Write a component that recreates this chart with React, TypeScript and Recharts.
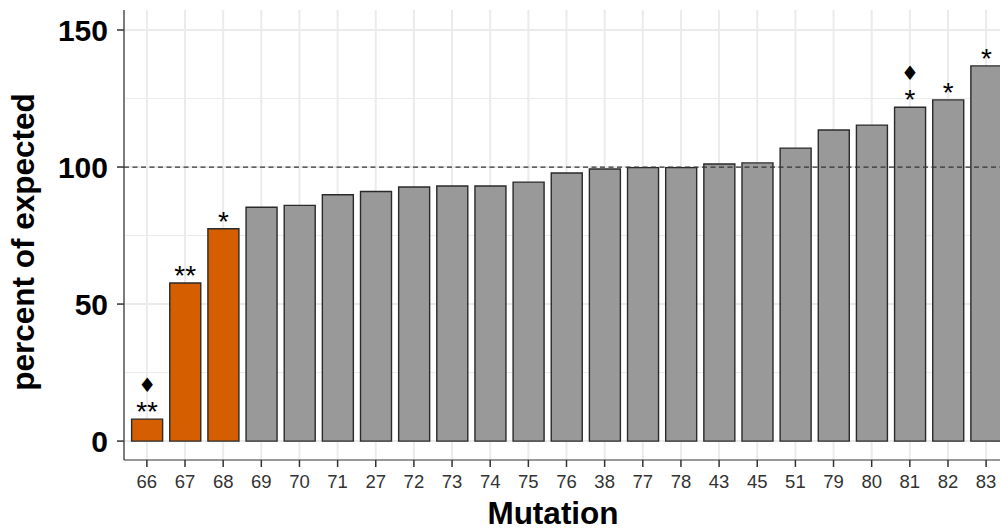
import {
  BarChart, Bar, XAxis, YAxis, CartesianGrid, ReferenceLine,
  Cell, LabelList, Label,
} from "recharts";

const mutations = [
  "66", "67", "68", "69", "70", "71", "27", "72", "73", "74", "75", "76",
  "38", "77", "78", "43", "45", "51", "79", "80", "81", "82", "83",
];
const percentExpected = [
  8, 57.7, 77.5, 85.3, 86.0, 89.9, 91.1, 92.7, 93.1, 93.1, 94.5, 97.8,
  99.3, 99.8, 99.8, 101.1, 101.5, 106.9, 113.5, 115.3, 121.8, 124.5, 136.9,
];
const significance = [
  "**", "**", "*", "", "", "", "", "", "", "", "", "",
  "", "", "", "", "", "", "", "", "*", "*", "*",
];
const diamonds = [
  "♦", "", "", "", "", "", "", "", "", "", "", "",
  "", "", "", "", "", "", "", "", "♦", "", "",
];
const highlighted = ["66", "67", "68"];
const yTicks = [0, 50, 100, 150];
const yMinor = [25, 75, 125];

const data = mutations.map((m, i) => ({
  mutation: m,
  value: percentExpected[i],
  sig: significance[i],
  dia: diamonds[i],
}));

const FONT = '"Liberation Sans", Arial, Helvetica, sans-serif';
const INK = "#333333";

function SigLabel(props: any) {
  const { x, y, width, value } = props;
  if (!value) return null;
  return (
    <text x={x + width / 2} y={y + 2} textAnchor="middle" fontSize={28}
      fontFamily={FONT} fill="#000">{value}</text>
  );
}

function DiamondLabel(props: any) {
  const { x, y, width, value } = props;
  if (!value) return null;
  return (
    <text x={x + width / 2} y={y - 34} textAnchor="middle" dominantBaseline="central"
      fontSize={20} fontFamily='"DejaVu Sans", sans-serif' fill="#000">{value}</text>
  );
}

export default function App() {
  return (
    <div style={{ position: "absolute", left: 0, top: 0, width: 1000, height: 531, overflow: "hidden", background: "#fff" }}>
      <BarChart width={1020} height={531} data={data} barCategoryGap="10%"
        margin={{ top: 10, right: 11, left: 0, bottom: 0 }}
        style={{ fontFamily: FONT }}>
        <CartesianGrid horizontalValues={yMinor} vertical={false} stroke="#EBEBEB" strokeWidth={1} />
        <CartesianGrid horizontalValues={yTicks} stroke="#EBEBEB" strokeWidth={2} />
        <XAxis dataKey="mutation" interval={0} height={71} tickSize={7} tickMargin={8}
          padding={{ left: 3.8, right: 3.8 }}
          axisLine={{ stroke: INK, strokeWidth: 1.2 }} tickLine={{ stroke: INK, strokeWidth: 1.5 }}
          tick={{ fontSize: 18.5, fill: INK, fontFamily: FONT }}>
          <Label content={() => (
            <text x={553} y={524} textAnchor="middle" fontSize={31.5} fontWeight="bold"
              fontFamily={FONT} fill="#000">Mutation</text>
          )} />
        </XAxis>
        <XAxis xAxisId="top" dataKey="mutation" orientation="top" height={0}
          tick={false} tickLine={false} axisLine={{ stroke: INK, strokeWidth: 1.2 }} />
        <YAxis type="number" domain={[-6.9, 157.3]} ticks={yTicks} width={124}
          tickSize={7} tickMargin={9}
          axisLine={{ stroke: INK, strokeWidth: 1.2 }} tickLine={{ stroke: INK, strokeWidth: 1.5 }}
          tick={{ fontSize: 30, fontWeight: "bold", fill: "#000", fontFamily: FONT }}>
          <Label content={() => (
            <text x={34} y={242} textAnchor="middle" fontSize={31.5} fontWeight="bold"
              fontFamily={FONT} fill="#000" transform="rotate(-90 34 242)">percent of expected</text>
          )} />
        </YAxis>
        <ReferenceLine y={100} stroke={INK} strokeWidth={1.3} strokeDasharray="5 3.5" />
        <Bar dataKey="value" stroke="#2a2a2a" strokeWidth={1.4} isAnimationActive={false}>
          {data.map((d) => (
            <Cell key={d.mutation} fill={highlighted.includes(d.mutation) ? "#D55E00" : "#999999"} />
          ))}
          <LabelList dataKey="sig" content={SigLabel} />
          <LabelList dataKey="dia" content={DiamondLabel} />
        </Bar>
      </BarChart>
    </div>
  );
}
